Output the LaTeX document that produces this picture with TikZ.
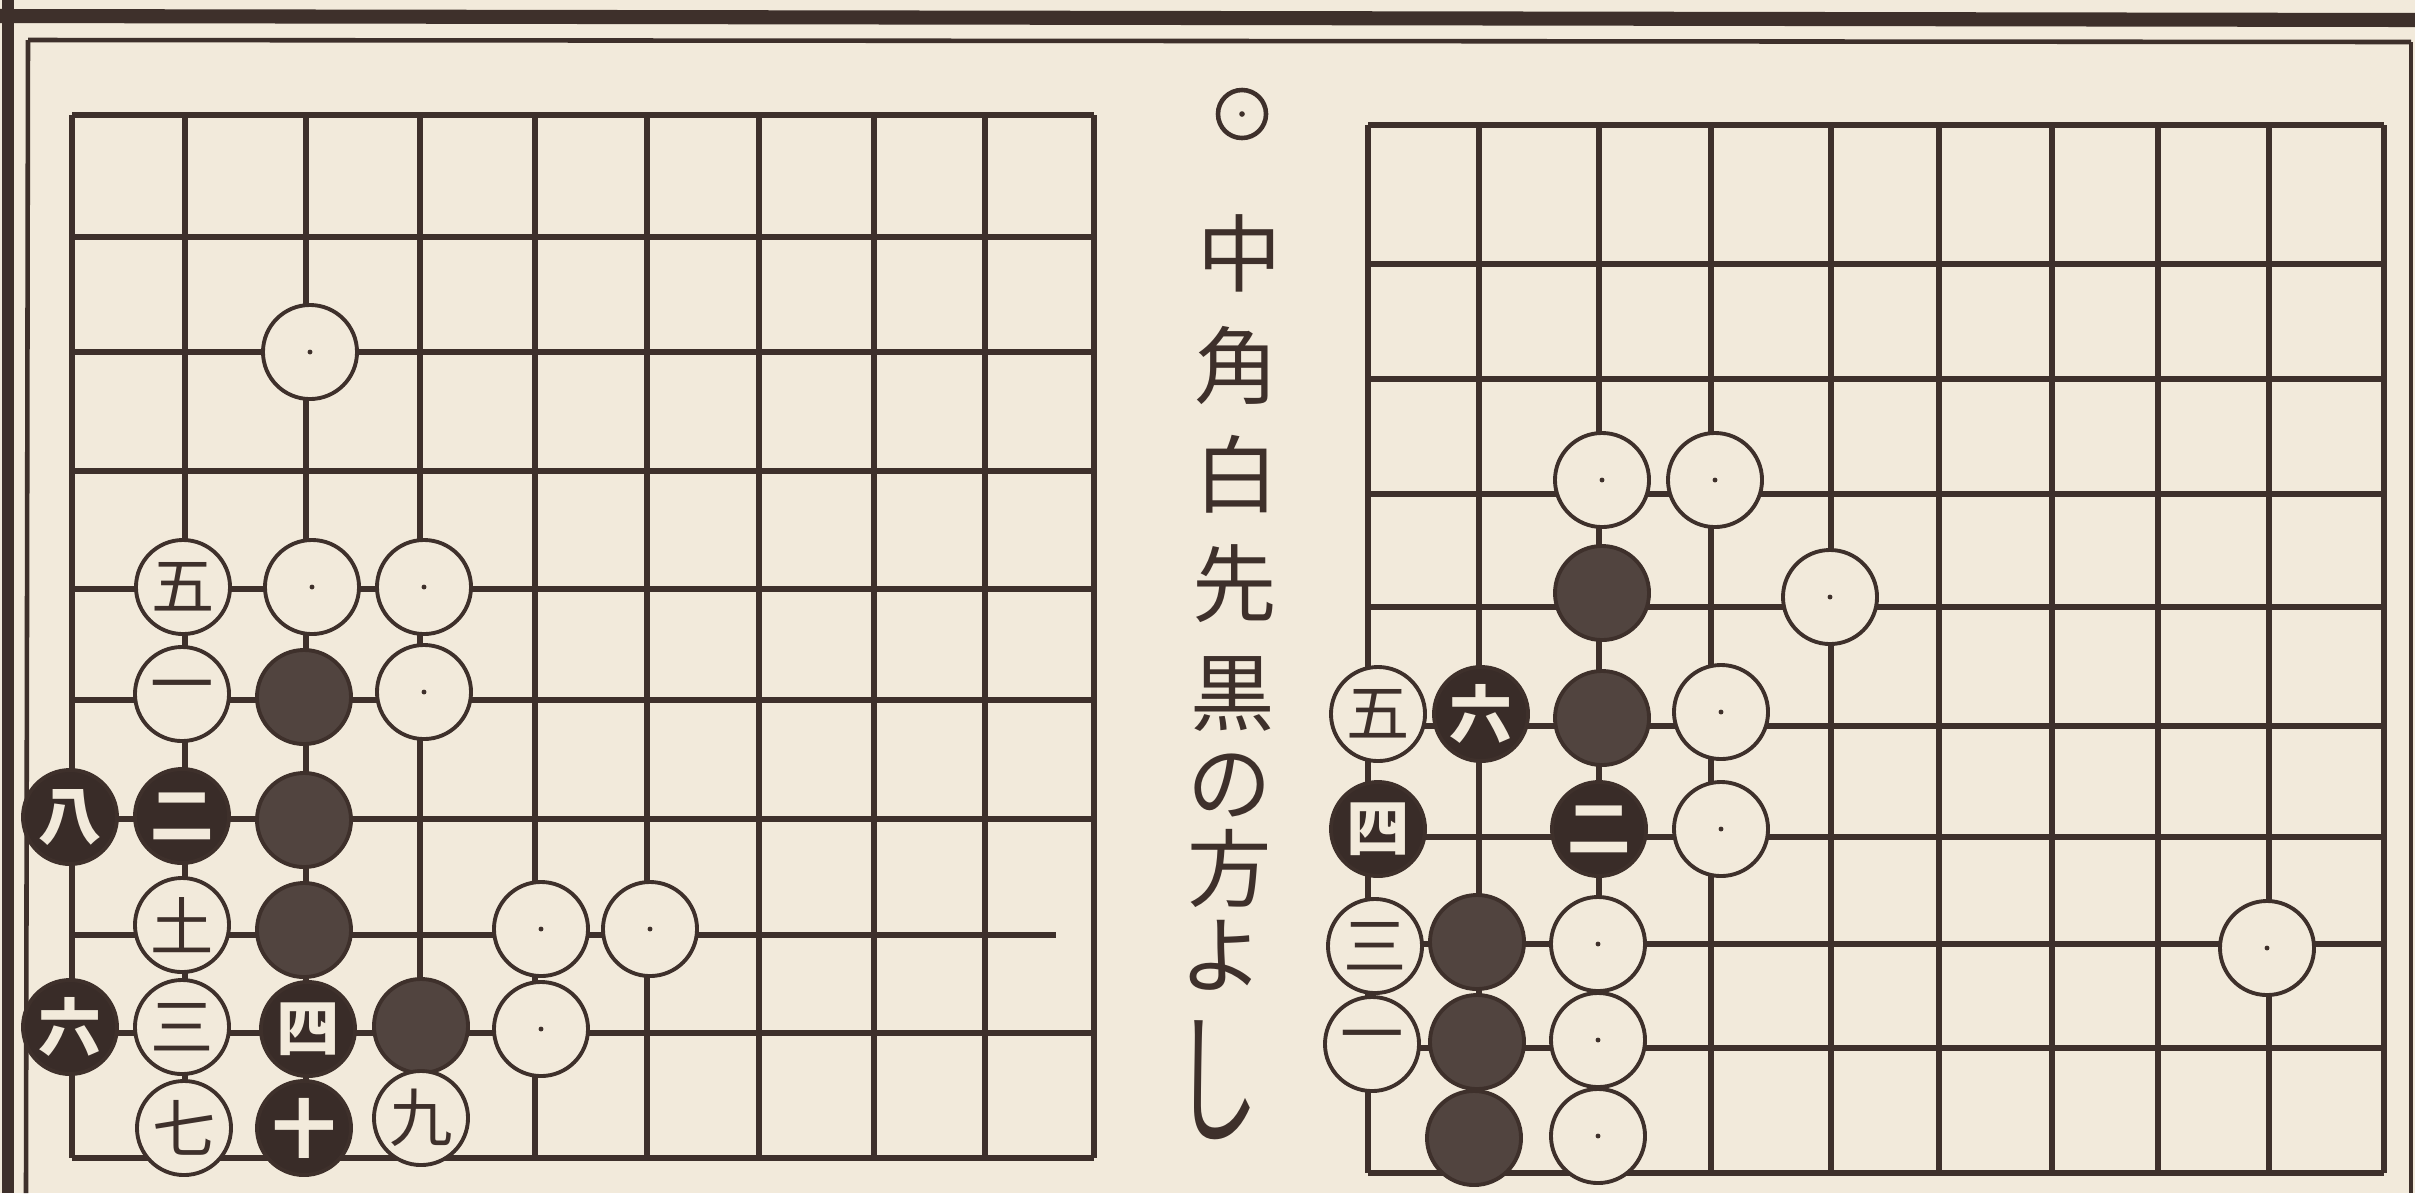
\documentclass[tikz,border=0pt]{standalone}
\usepackage{fontspec}
\usepackage{xcolor}
\newfontfamily\jpfont{Noto Sans CJK JP}
\definecolor{paper}{HTML}{F2EADB}
\definecolor{ink}{HTML}{3E302B}
\definecolor{inkgray}{HTML}{51443F}

\begin{document}
\begin{tikzpicture}[x=0.01cm, y=-0.01cm,
  grid/.style={draw=ink, line width=1.6pt},
  stone/.style={circle, minimum size=0.94cm, inner sep=0pt, line width=1.1pt, draw=ink},
  wstone/.style={stone, fill=paper, text=ink, font=\jpfont\fontsize{18}{18}\selectfont},
  dstone/.style={wstone, path picture={\fill[ink] (path picture bounding box.center) circle (0.7pt);}},
  bstone/.style={stone, fill=ink!92!black, text=paper, font=\jpfont\bfseries\fontsize{18}{18}\selectfont},
  gstone/.style={stone, fill=inkgray},
  title/.style={text=ink, inner sep=0pt, font=\jpfont\fontsize{24}{24}\selectfont}]

  % paper and frame
  \fill[paper] (0,0) rectangle (2415,1193);
  \useasboundingbox (0,0) rectangle (2415,1193);
  \draw[ink, line width=4pt] (0,16) -- (2415,20);
  \draw[ink, line width=3.4pt] (8,0) -- (8,1193);
  \draw[ink, line width=1.3pt] (28,40) -- (2411,42);
  \draw[ink, line width=1.3pt] (28,40) -- (26,1193);
  \draw[ink, line width=1.3pt] (2411,42) -- (2411,1193);

  % left board
  \foreach \x in {72,185,306,420,535,647,759,874,985,1094}
    \draw[grid] (\x,115) -- (\x,1158);
  \foreach \y in {115,237,352,471,589,700,819,1033,1158}
    \draw[grid] (72,\y) -- (1094,\y);
  \draw[grid] (72,935) -- (1056,935);

  \node[dstone] (L22) at (310,352) {};
  \node[wstone] (L14) at (183,587) {五};
  \node[dstone] (L24) at (312,587) {};
  \node[dstone] (L34) at (424,587) {};
  \node[wstone] (L15) at (182,694) {一};
  \node[gstone] (L25) at (304,697) {};
  \node[dstone] (L35) at (424,692) {};
  \node[bstone] (L06) at (70,817) {八};
  \node[bstone] (L16) at (182,816) {二};
  \node[gstone] (L26) at (304,820) {};
  \node[wstone] (L17) at (182,925) {土};
  \node[gstone] (L27) at (304,930) {};
  \node[dstone] (L47) at (541,929) {};
  \node[dstone] (L57) at (650,929) {};
  \node[bstone] (L08) at (70,1027) {六};
  \node[wstone] (L18) at (182,1027) {三};
  \node[bstone] (L28) at (308,1029) {四};
  \node[gstone] (L38) at (421,1026) {};
  \node[dstone] (L48) at (541,1029) {};
  \node[wstone] (L19) at (184,1128) {七};
  \node[bstone] (L29) at (304,1128) {十};
  \node[wstone] (L39) at (421,1118) {九};

  % title
  \node[circle, draw=ink, line width=1.3pt, minimum size=0.48cm, inner sep=0pt,
    path picture={\fill[ink] (path picture bounding box.center) circle (0.8pt);}]
    (mark) at (1242,114) {};
  \node[title] (t1) at (1240,253) {中};
  \node[title] (t2) at (1237,365) {角};
  \node[title] (t3) at (1237,474) {白};
  \node[title] (t4) at (1235,584) {先};
  \node[title] (t5) at (1233,694) {黒};
  \node[title] (t6) at (1230,785) {の};
  \node[title] (t7) at (1230,868) {方};
  \node[title] (t8) at (1222,955) {よ};
  \node[title] (t9) at (1217,1080) {\scalebox{1}[1.7]{し}};

  % right board
  \foreach \x in {1368,1479,1599,1711,1831,1939,2052,2158,2269,2384}
    \draw[grid] (\x,125) -- (\x,1173);
  \foreach \y in {125,264,379,494,607,726,837,944,1048,1173}
    \draw[grid] (1368,\y) -- (2384,\y);

  \node[dstone] (R23) at (1602,480) {};
  \node[dstone] (R33) at (1715,480) {};
  \node[gstone] (R24) at (1602,593) {};
  \node[dstone] (R44) at (1830,597) {};
  \node[wstone] (R05) at (1378,714) {五};
  \node[bstone] (R15) at (1481,714) {六};
  \node[gstone] (R25) at (1602,718) {};
  \node[dstone] (R35) at (1721,712) {};
  \node[bstone] (R06) at (1378,829) {四};
  \node[bstone] (R26) at (1599,829) {二};
  \node[dstone] (R36) at (1721,829) {};
  \node[wstone] (R07) at (1375,946) {三};
  \node[gstone] (R17) at (1477,942) {};
  \node[dstone] (R27) at (1598,944) {};
  \node[dstone] (R87) at (2267,948) {};
  \node[wstone] (R08) at (1372,1044) {一};
  \node[gstone] (R18) at (1477,1042) {};
  \node[dstone] (R28) at (1598,1040) {};
  \node[gstone] (R19) at (1474,1138) {};
  \node[dstone] (R29) at (1598,1136) {};
\end{tikzpicture}
\end{document}
